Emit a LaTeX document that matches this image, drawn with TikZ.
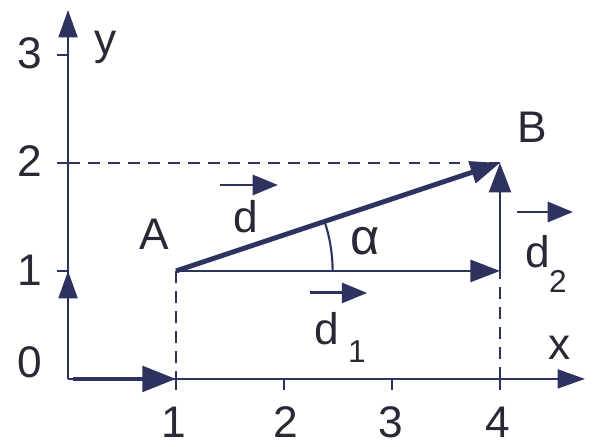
\documentclass[tikz,border=0pt]{standalone}
\usepackage{fontspec}
\setmainfont{Liberation Sans}
\usetikzlibrary{arrows.meta}
\definecolor{ink}{RGB}{45,50,95}
\definecolor{txt}{RGB}{40,40,55}
\begin{document}
\begin{tikzpicture}[x=1.8cm,y=1.8cm,
  lbl/.style={text=txt,font=\fontsize{21}{24}\selectfont,inner sep=0pt},
  sublbl/.style={text=txt,font=\fontsize{15}{18}\selectfont,inner sep=0pt},
  thinline/.style={draw=ink,line width=1pt},
  vecline/.style={draw=ink,line width=2.3pt},
  dashline/.style={draw=ink,line width=1pt,dash pattern=on 5.5pt off 4pt},
  axtip/.style={-{Triangle[length=13pt,width=9pt]}},
  vectip/.style={-{Triangle[length=14pt,width=10.5pt]}},
  itip/.style={-{Triangle[length=16pt,width=12pt]}},
  lbltip/.style={-{Triangle[length=12pt,width=9.5pt]}}]
\useasboundingbox (-0.630,-0.630) rectangle (4.880,3.509);
% key points
\coordinate (O) at (0,0);
\coordinate (Ystart) at (0,0);
\coordinate (Yend) at (0,3.417);
\coordinate (Xend) at (4.787,0);
\coordinate (Istart) at (0.05,0);
\coordinate (I) at (1,0);
\coordinate (J) at (0,1);
\coordinate (A) at (1,1);
\coordinate (B) at (4,2);
\coordinate (C) at (4,1);
\coordinate (Y2) at (0,2);
\coordinate (X4) at (4,0);
% axes
\draw[thinline,axtip] (Ystart) -- (Yend);
\draw[thinline,axtip] (O) -- (Xend);
% ticks
\foreach \k in {1,2,3} \draw[thinline] (-0.1,\k) -- (0,\k);
\foreach \k in {1,2,3,4} \draw[thinline] (\k,0) -- (\k,-0.1);
% unit vectors
\draw[vecline,itip] (Istart) -- (I);
\draw[thinline,axtip] (O) -- (J);
% dashed guides
\draw[dashline] (Y2) -- (B);
\draw[dashline,line width=1.4pt] (A) -- (I);
\draw[dashline] (X4) -- (C);
% vectors
\draw[thinline,vectip] (A) -- (C);
\draw[thinline,vectip] (C) -- (B);
\draw[vecline,vectip] (A) -- (B);
% angle arc
\draw[thinline] (A) ++(0:1.45) arc[start angle=0,end angle=18.43,radius=1.45];
% axis labels
\node[lbl] (l3) at (-0.352,3.02) {3};
\node[lbl] (l2) at (-0.352,2.02) {2};
\node[lbl] (l1) at (-0.352,1.01) {1};
\node[lbl] (l0) at (-0.352,0.15) {0};
\node[lbl] (x1) at (0.98,-0.40) {1};
\node[lbl] (x2) at (2.02,-0.40) {2};
\node[lbl] (x3) at (2.99,-0.40) {3};
\node[lbl] (x4) at (3.98,-0.40) {4};
\node[lbl,anchor=base] (ylab) at (0.352,3.0) {y};
\node[lbl,anchor=base] (xlab) at (4.556,0.176) {x};
\node[lbl,anchor=base] (Alab) at (0.796,1.194) {A};
\node[lbl,anchor=base] (Blab) at (4.296,2.185) {B};
\node[lbl,anchor=base,font=\fontsize{24}{28}\selectfont] (alpha) at (2.75,1.148) {α};
% vector labels
\node[lbl,anchor=base] (dlab) at (1.648,1.352) {d};
\coordinate (da1) at (1.407,1.796);
\coordinate (da2) at (1.944,1.796);
\draw[draw=ink,line width=1.4pt,lbltip] (da1) -- (da2);
\node[lbl,anchor=base] (d1lab) at (2.398,0.315) {d};
\node[sublbl,anchor=base] (d1sub) at (2.676,0.148) {1};
\coordinate (d1a1) at (2.24,0.796);
\coordinate (d1a2) at (2.77,0.796);
\draw[draw=ink,line width=1.4pt,lbltip] (d1a1) -- (d1a2);
\node[lbl,anchor=base] (d2lab) at (4.352,1.028) {d};
\node[sublbl,anchor=base] (d2sub) at (4.537,0.796) {2};
\coordinate (d2a1) at (4.157,1.546);
\coordinate (d2a2) at (4.676,1.546);
\draw[draw=ink,line width=1.4pt,lbltip] (d2a1) -- (d2a2);
\end{tikzpicture}
\end{document}
